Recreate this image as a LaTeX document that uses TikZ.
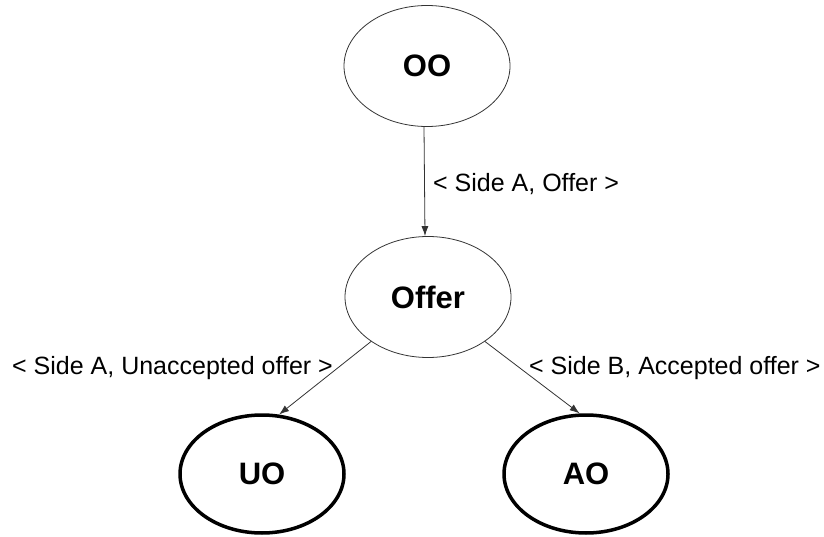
\documentclass[tikz,border=0pt]{standalone}
\usepackage{fontspec}
\setmainfont{Liberation Sans}
\usepackage{tikz}
\usetikzlibrary{arrows.meta}
\usetikzlibrary{shapes.geometric}
\usetikzlibrary{positioning}

\begin{document}
\begin{tikzpicture}[x=1pt,y=-1pt]
    \tikzstyle{every node}=[font=\fontsize{25}{30}\selectfont]
    \tikzstyle{state}=[draw=black!80,line width=0.8pt,ellipse,inner sep=0pt,minimum width=166pt,minimum height=121pt,font=\fontsize{31}{36}\selectfont\bfseries]
    \tikzstyle{final}=[state,draw=black,line width=3.5pt,minimum width=164pt,minimum height=118pt]
    \tikzstyle{move}=[draw=black!80,line width=0.8pt,-{Latex[length=10pt,width=7pt]}]
    \tikzstyle{lbl}=[inner sep=0pt,anchor=base west]

    \useasboundingbox (0,0) rectangle (824,537);

    \node[state] (oo)    at (427,66)  {OO} ;
    \node[state] (offer) at (428,297) {Offer} ;
    \node[final] (uo)    at (262,474) {UO} ;
    \node[final] (ao)    at (586,474) {AO} ;

    \draw[move] ([xshift=-3pt]oo.south) -- ([xshift=-3pt]offer.north) ;
    \draw[move] (offer.218) -- (uo.74) ;
    \draw[move] (offer.322) -- (ao.96) ;

    \node[lbl] (sideAoffer) at (433,192) {< Side A, Offer >} ;
    \node[lbl] (sideAunacc) at (12,374)  {< Side A, Unaccepted offer >} ;
    \node[lbl] (sideBacc)   at (529,374) {< Side B, Accepted offer >} ;

\end{tikzpicture}
\end{document}
